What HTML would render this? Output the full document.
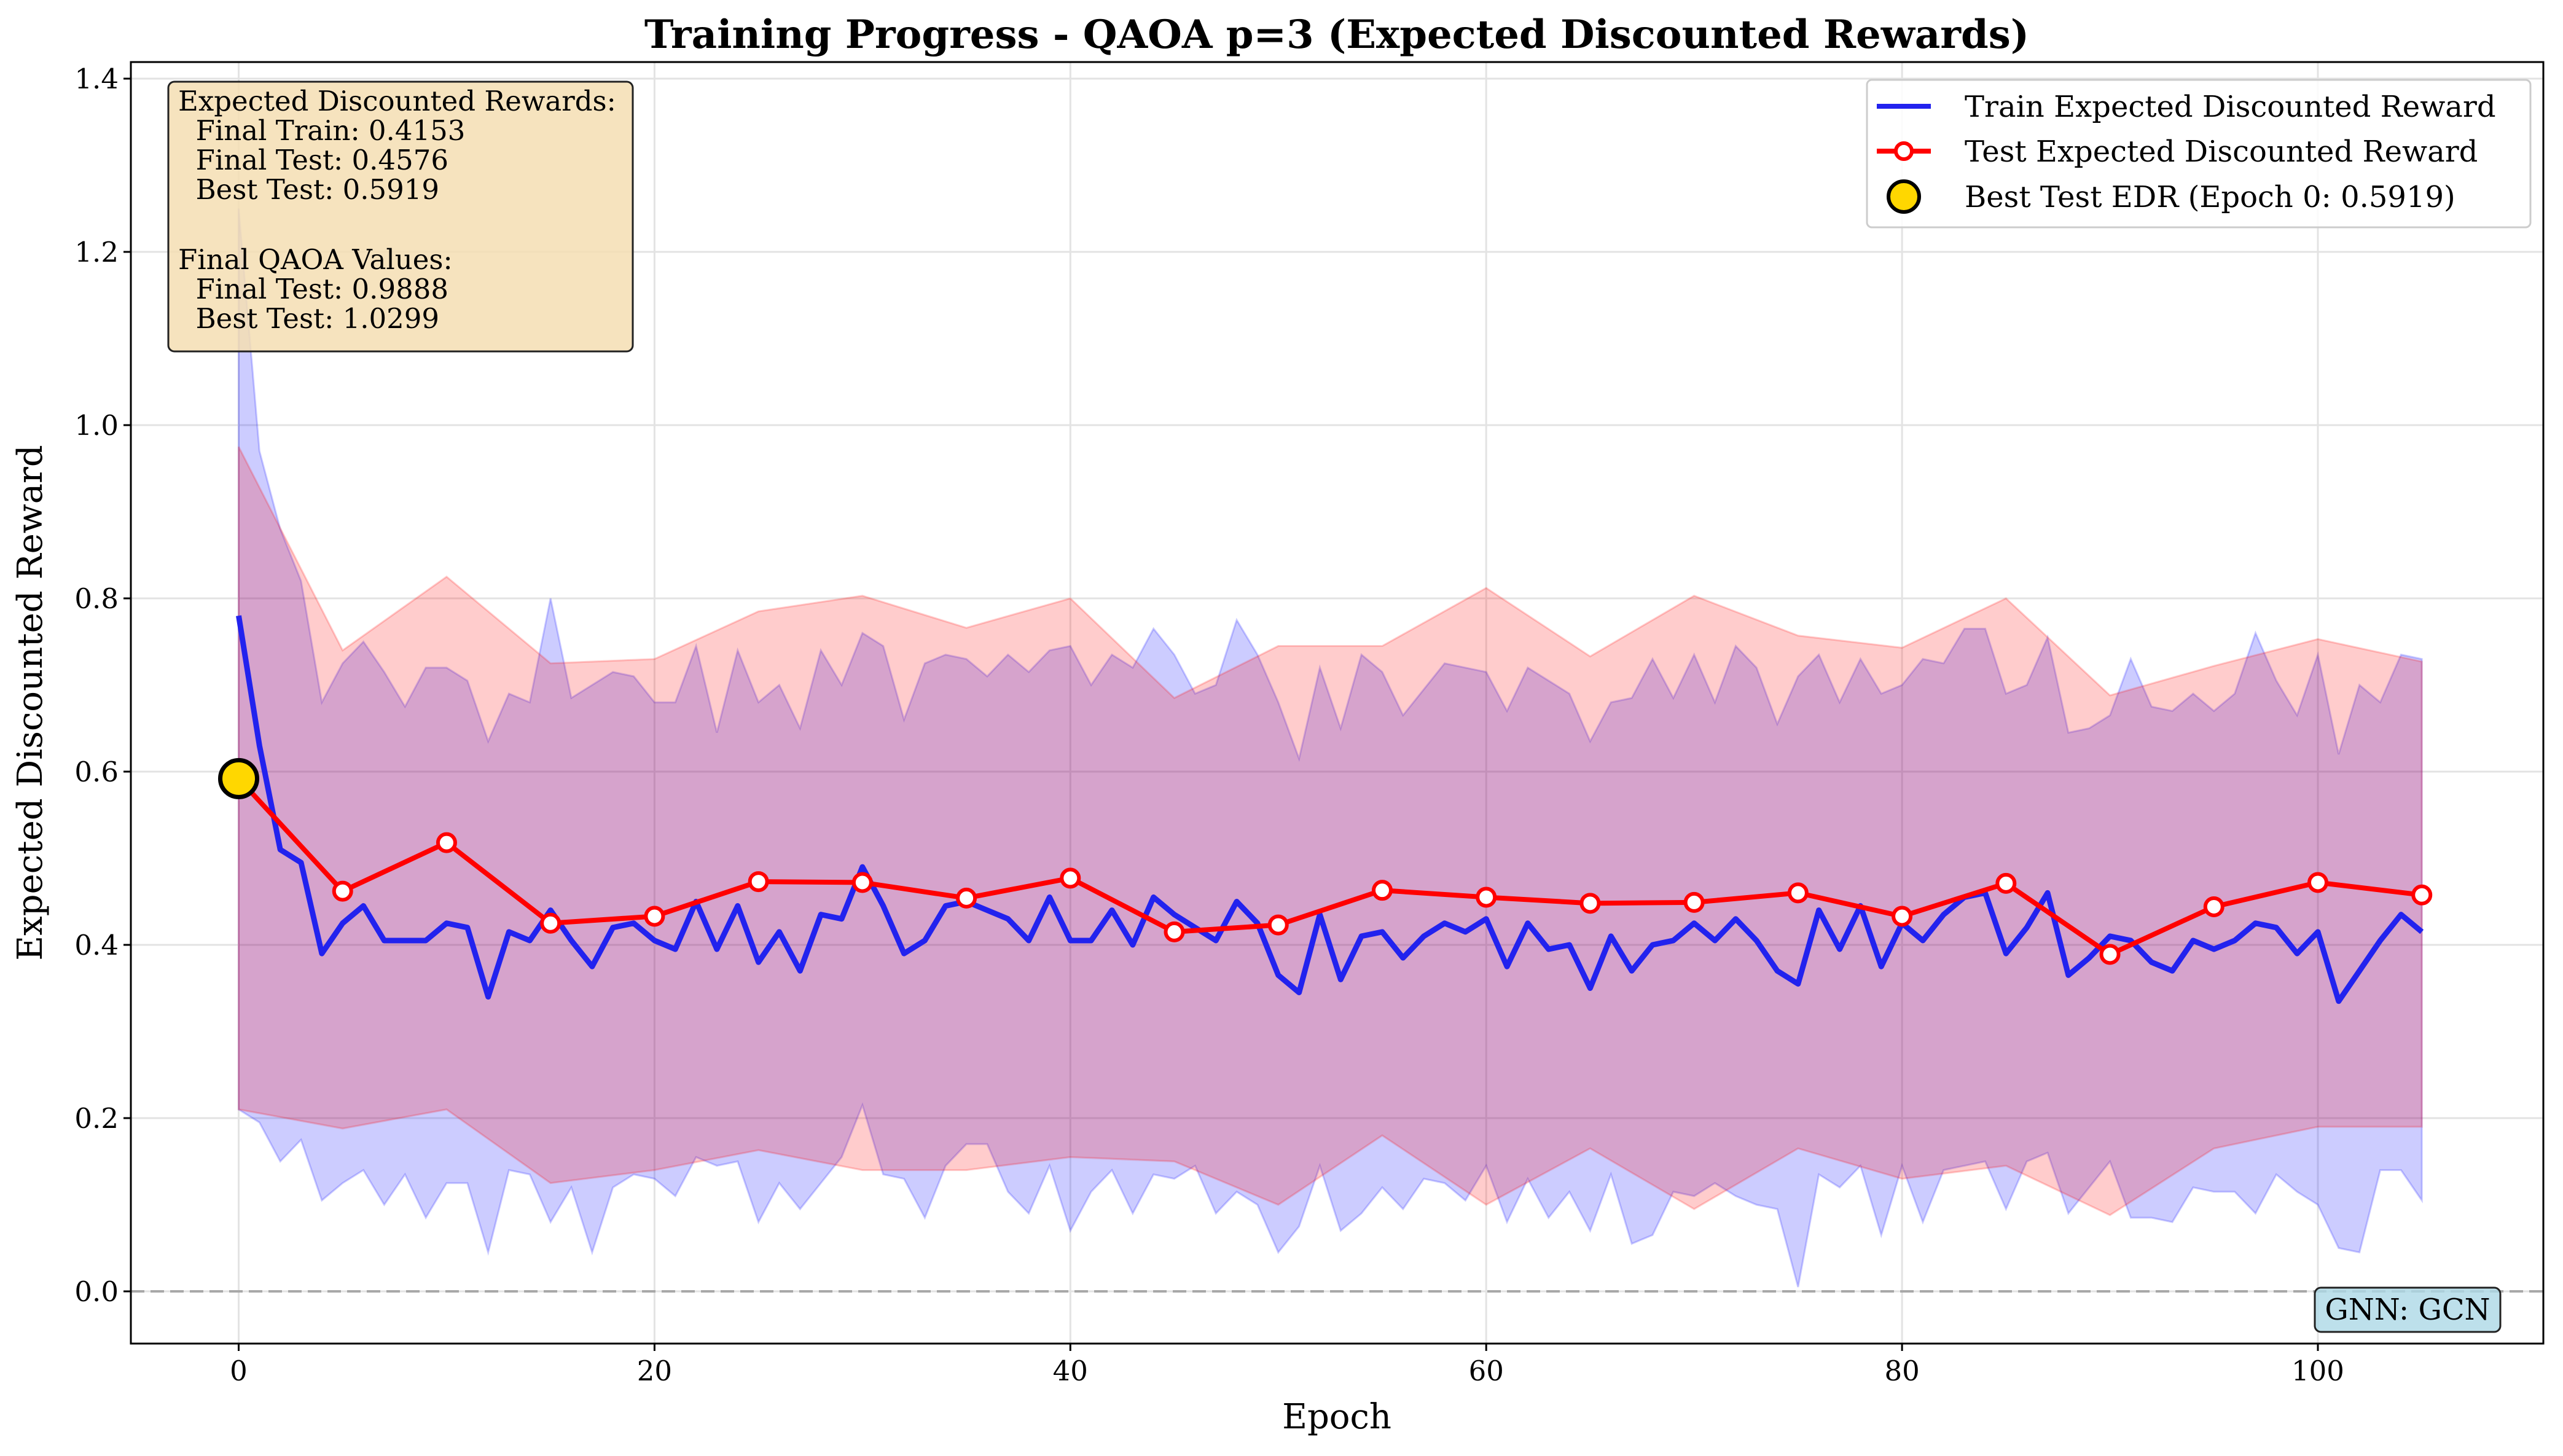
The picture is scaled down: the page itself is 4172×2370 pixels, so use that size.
<!DOCTYPE html>
<html><head><meta charset="utf-8"><style>
html,body{margin:0;padding:0;background:#fff}
svg{display:block;font-family:"DejaVu Serif","Liberation Serif",serif}
</style></head><body>
<svg id="chart" width="4172" height="2370" viewBox="0 0 4172 2370" xmlns="http://www.w3.org/2000/svg">
<rect width="4172" height="2370" fill="#fff"/>
<g id="grid"></g>
<g id="bands"></g>
<g id="lines"></g>
<g id="axes"></g>
<text x="2176" y="78" text-anchor="middle" font-size="64" font-weight="bold">Training Progress - QAOA p=3 (Expected Discounted Rewards)</text>
<text x="2176" y="2325" text-anchor="middle" font-size="56">Epoch</text>
<text transform="translate(68,1144) rotate(-90)" text-anchor="middle" font-size="56">Expected Discounted Reward</text>
<g>
<rect x="274" y="133" width="756" height="439" rx="10" fill="#f5deb3" fill-opacity="0.85" stroke="#222" stroke-width="3"/>
<text font-size="45" x="290" y="180">Expected Discounted Rewards:</text>
<text font-size="45" x="290" y="228" xml:space="preserve">  Final Train: 0.4153</text>
<text font-size="45" x="290" y="276" xml:space="preserve">  Final Test: 0.4576</text>
<text font-size="45" x="290" y="324" xml:space="preserve">  Best Test: 0.5919</text>
<text font-size="45" x="290" y="438">Final QAOA Values:</text>
<text font-size="45" x="290" y="486" xml:space="preserve">  Final Test: 0.9888</text>
<text font-size="45" x="290" y="534" xml:space="preserve">  Best Test: 1.0299</text>
</g>
<g>
<rect x="3039" y="130" width="1080" height="240" rx="8" fill="#fff" fill-opacity="0.85" stroke="#ccc" stroke-width="3"/>
<line x1="3055" y1="173" x2="3143" y2="173" stroke="#2222ee" stroke-width="8"/>
<text font-size="48" x="3198" y="190">Train Expected Discounted Reward</text>
<line x1="3055" y1="246" x2="3143" y2="246" stroke="#ff0000" stroke-width="8"/>
<circle cx="3099" cy="246" r="13" fill="#fff" stroke="#ff0000" stroke-width="6"/>
<text font-size="48" x="3198" y="263">Test Expected Discounted Reward</text>
<circle cx="3099" cy="320" r="25" fill="#ffd700" stroke="#000" stroke-width="6"/>
<text font-size="48" x="3198" y="337">Best Test EDR (Epoch 0: 0.5919)</text>
</g>
<g>
<rect x="3768" y="2096" width="302" height="72" rx="10" fill="#add8e6" fill-opacity="0.8" stroke="#222" stroke-width="3"/>
<text font-size="48" x="3919" y="2148" text-anchor="middle">GNN: GCN</text>
</g>
</svg>
<script>
const trainMean=[0.78,0.63,0.51,0.495,0.39,0.425,0.445,0.405,0.405,0.405,0.425,0.42,0.34,0.415,0.405,0.44,0.405,0.375,0.42,0.425,0.405,0.395,0.45,0.395,0.445,0.38,0.415,0.37,0.435,0.43,0.49,0.445,0.39,0.405,0.445,0.45,0.44,0.43,0.405,0.455,0.405,0.405,0.44,0.4,0.455,0.435,0.42,0.405,0.45,0.425,0.365,0.345,0.435,0.36,0.41,0.415,0.385,0.41,0.425,0.415,0.43,0.375,0.425,0.395,0.4,0.35,0.41,0.37,0.4,0.405,0.425,0.405,0.43,0.405,0.37,0.355,0.44,0.395,0.445,0.375,0.425,0.405,0.435,0.455,0.46,0.39,0.42,0.46,0.365,0.385,0.41,0.405,0.38,0.37,0.405,0.395,0.405,0.425,0.42,0.39,0.415,0.335,0.37,0.405,0.435,0.415];
const trainUpper=[1.25,0.97,0.88,0.82,0.68,0.725,0.75,0.715,0.675,0.72,0.72,0.705,0.635,0.69,0.68,0.8,0.685,0.7,0.715,0.71,0.68,0.68,0.745,0.645,0.74,0.68,0.7,0.65,0.74,0.7,0.76,0.745,0.66,0.725,0.735,0.73,0.71,0.735,0.715,0.74,0.745,0.7,0.735,0.72,0.765,0.735,0.69,0.7,0.775,0.735,0.68,0.615,0.72,0.65,0.735,0.715,0.665,0.695,0.725,0.72,0.715,0.67,0.72,0.705,0.69,0.635,0.68,0.685,0.73,0.685,0.735,0.68,0.745,0.72,0.655,0.71,0.735,0.68,0.73,0.69,0.7,0.73,0.725,0.765,0.765,0.69,0.7,0.755,0.645,0.65,0.665,0.73,0.675,0.67,0.69,0.67,0.69,0.76,0.705,0.665,0.735,0.62,0.7,0.68,0.735,0.73];
const trainLower=[0.21,0.195,0.15,0.175,0.105,0.125,0.14,0.1,0.135,0.085,0.125,0.125,0.045,0.14,0.135,0.08,0.12,0.045,0.12,0.135,0.13,0.11,0.155,0.145,0.15,0.08,0.125,0.095,0.125,0.155,0.215,0.135,0.13,0.085,0.145,0.17,0.17,0.115,0.09,0.145,0.07,0.115,0.14,0.09,0.135,0.13,0.145,0.09,0.115,0.1,0.045,0.075,0.145,0.07,0.09,0.12,0.095,0.13,0.125,0.105,0.145,0.08,0.13,0.085,0.115,0.07,0.135,0.055,0.065,0.115,0.11,0.125,0.11,0.1,0.095,0.005,0.135,0.12,0.145,0.065,0.145,0.08,0.14,0.145,0.15,0.095,0.15,0.16,0.09,0.12,0.15,0.085,0.085,0.08,0.12,0.115,0.115,0.09,0.135,0.115,0.1,0.05,0.045,0.14,0.14,0.105];
const testEpochs=[0,5,10,15,20,25,30,35,40,45,50,55,60,65,70,75,80,85,90,95,100,105];
const testMean=[0.5919,0.462,0.518,0.425,0.433,0.473,0.472,0.454,0.477,0.415,0.423,0.463,0.455,0.448,0.449,0.46,0.433,0.471,0.389,0.444,0.472,0.4576];
const testUpper=[0.975,0.74,0.825,0.725,0.73,0.785,0.803,0.766,0.8,0.685,0.745,0.745,0.812,0.733,0.803,0.757,0.743,0.8,0.688,0.722,0.753,0.727];
const testLower=[0.21,0.188,0.21,0.125,0.14,0.163,0.14,0.14,0.155,0.15,0.1,0.18,0.1,0.165,0.095,0.165,0.13,0.145,0.088,0.165,0.19,0.19];
const xTicks=[0,20,40,60,80,100];
const yTicks=[0.0,0.2,0.4,0.6,0.8,1.0,1.2,1.4];
const bestEpoch=[0];
const bestValue=[0.5919];

const NS="http://www.w3.org/2000/svg";
const L=213,R=4140,T=101,B=2187;
const X=v=>388.5+(v)*(3773-388.5)/100;
const Y=v=>2102-v*(2102-128)/1.4;
function mk(tag,attrs,parent){const e=document.createElementNS(NS,tag);for(const k in attrs)e.setAttribute(k,attrs[k]);parent.appendChild(e);return e;}
const grid=document.getElementById('grid'),bands=document.getElementById('bands'),lines=document.getElementById('lines'),axes=document.getElementById('axes');
xTicks.forEach(t=>{const l=mk('line',{x1:X(t),x2:X(t),y1:T,y2:B,stroke:'#e3e3e3','stroke-width':3},grid);

});
yTicks.forEach(t=>{const l=mk('line',{x1:L,x2:R,y1:Y(t),y2:Y(t),stroke:'#e3e3e3','stroke-width':3},grid);

});
const zl=mk('line',{x1:L,x2:R,y1:Y(0),y2:Y(0),stroke:'#999','stroke-width':4,'stroke-dasharray':'22 10','stroke-opacity':0.8},grid);


function band(xs,up,lo,fill,stroke){let d='M';xs.forEach((x,i)=>d+=X(x)+','+Y(up[i])+' L');for(let i=xs.length-1;i>=0;i--)d+=X(xs[i])+','+Y(lo[i])+(i?' L':' Z');return mk('path',{d:d,fill:fill,'fill-opacity':0.2,stroke:stroke,'stroke-opacity':0.2,'stroke-width':3},bands);}
const trainEpochs=trainMean.map((_,i)=>i);
const b1=band(trainEpochs,trainUpper,trainLower,'#0000ff','#0000ff');


const b2=band(testEpochs,testUpper,testLower,'#ff0000','#ff0000');


const tl=mk('polyline',{points:trainEpochs.map(i=>X(i)+','+Y(trainMean[i])).join(' '),fill:'none',stroke:'#2222ee','stroke-width':9,'stroke-linejoin':'round'},lines);


const sl=mk('polyline',{points:testEpochs.map((e,i)=>X(e)+','+Y(testMean[i])).join(' '),fill:'none',stroke:'#ff0000','stroke-width':8,'stroke-linejoin':'round'},lines);


testEpochs.forEach((e,i)=>{const c=mk('circle',{cx:X(e),cy:Y(testMean[i]),r:14,fill:'#fff',stroke:'#ff0000','stroke-width':6},lines);

});
const bm=mk('circle',{cx:X(bestEpoch[0]),cy:Y(bestValue[0]),r:30,fill:'#ffd700',stroke:'#000','stroke-width':7},lines);


const fr=mk('rect',{x:L,y:T,width:R-L,height:B-T,fill:'none',stroke:'#000','stroke-width':3},axes);


xTicks.forEach(t=>{mk('line',{x1:X(t),x2:X(t),y1:B,y2:B+12,stroke:'#000','stroke-width':3},axes);
const tx=mk('text',{x:X(t),y:B+60,'text-anchor':'middle','font-size':45},axes);tx.textContent=t;

});
yTicks.forEach(t=>{mk('line',{x1:L-12,x2:L,y1:Y(t),y2:Y(t),stroke:'#000','stroke-width':3},axes);
const tx=mk('text',{x:L-20,y:Y(t)+16,'text-anchor':'end','font-size':45},axes);tx.textContent=t.toFixed(1);

});
</script>
</body></html>
